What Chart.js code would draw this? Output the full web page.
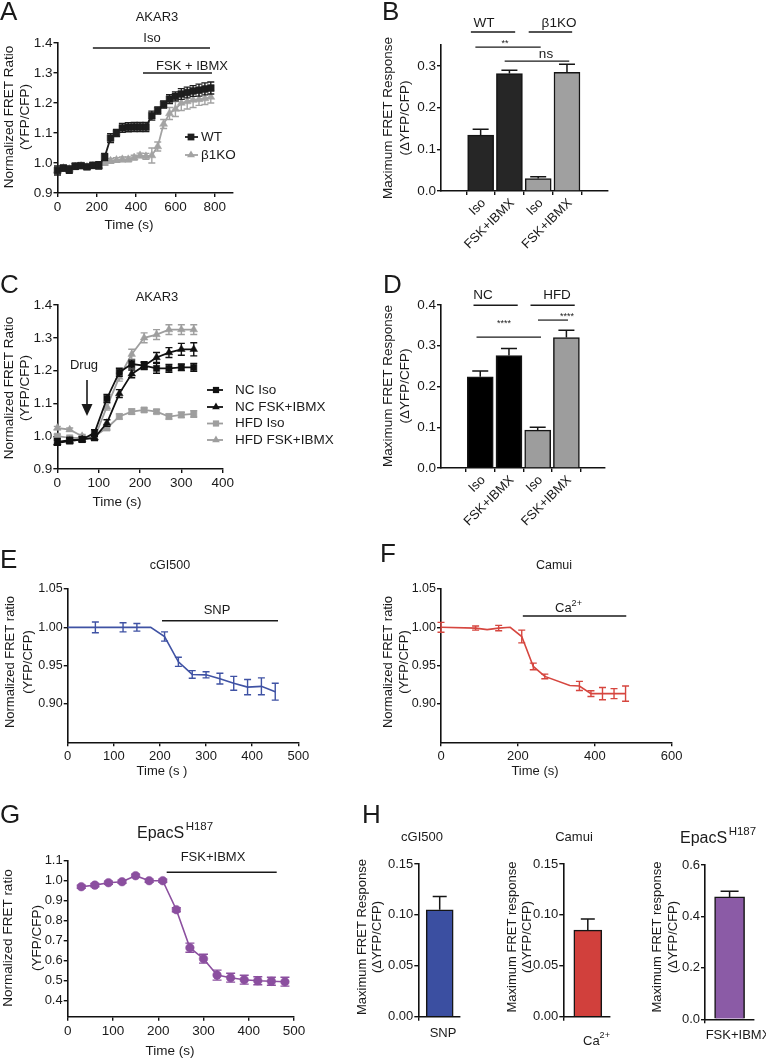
<!DOCTYPE html>
<html><head><meta charset="utf-8">
<script src="https://cdn.jsdelivr.net/npm/chart.js@4/dist/chart.umd.min.js"></script>
<style>
html,body{margin:0;padding:0;background:#fff;}
#wrap{position:relative;width:766px;height:1058px;overflow:hidden;background:#fff;}
#wrap canvas{position:absolute;left:0;top:0;}
</style></head><body><div id="wrap"></div>
<script>
// ---------------- DATA ----------------
// Panel A (AKAR3, WT vs b1KO)
const timeA = [0,30,60,90,120,150,180,210,240,270,300,330,360,390,420,450,480,510,540,570,600,630,660,690,720,750,780];
const wtA    = [0.975,0.983,0.978,0.989,0.991,0.987,0.992,0.992,1.020,1.083,1.100,1.117,1.119,1.120,1.120,1.120,1.158,1.175,1.195,1.213,1.222,1.230,1.235,1.240,1.243,1.247,1.250];
const wtAErr = [0.015,0.010,0.012,0.010,0.008,0.008,0.010,0.012,0.012,0.015,0.012,0.015,0.015,0.015,0.015,0.015,0.015,0.012,0.012,0.015,0.015,0.018,0.018,0.018,0.020,0.020,0.020];
const koA    = [0.975,0.983,0.980,0.988,0.990,0.987,0.990,0.990,1.000,1.007,1.010,1.012,1.012,1.018,1.025,1.022,1.025,1.055,1.130,1.165,1.180,1.200,1.205,1.210,1.212,1.215,1.220];
const koAErr = [0.010,0.008,0.008,0.008,0.008,0.008,0.008,0.008,0.008,0.008,0.008,0.008,0.008,0.008,0.008,0.010,0.025,0.015,0.015,0.020,0.025,0.025,0.025,0.025,0.020,0.020,0.020];
const xTicksA = [0,200,400,600,800];
const yTicksA = [0.9,1.0,1.1,1.2,1.3,1.4];

// Panel B
const catsB  = ['Iso','FSK+IBMX','Iso','FSK+IBMX'];
const valsB  = [0.134,0.282,0.030,0.285];
const errsB  = [0.014,0.008,0.004,0.019];
const yTicksB = [0,0.1,0.2,0.3];

// Panel C (AKAR3, NC vs HFD)
const timeC     = [0,30,60,90,120,150,180,210,240,270,300,330];
const ncIsoC    = [0.983,0.988,0.990,1.010,1.115,1.195,1.220,1.215,1.207,1.207,1.210,1.210];
const ncIsoCErr = [0.010,0.008,0.008,0.010,0.012,0.012,0.012,0.012,0.015,0.012,0.010,0.012];
const ncFskC    = [0.980,0.985,0.990,0.995,1.040,1.130,1.190,1.215,1.240,1.255,1.265,1.265];
const ncFskCErr = [0.008,0.008,0.008,0.008,0.010,0.012,0.012,0.010,0.015,0.015,0.018,0.020];
const hfdIsoC   = [1.000,0.995,0.995,1.000,1.025,1.060,1.075,1.080,1.075,1.060,1.065,1.068];
const hfdIsoCErr= [0.005,0.005,0.005,0.005,0.006,0.008,0.008,0.006,0.006,0.008,0.008,0.010];
const hfdFskC   = [1.025,1.020,1.000,0.995,1.090,1.180,1.250,1.300,1.310,1.325,1.325,1.325];
const hfdFskCErr= [0.005,0.005,0.005,0.005,0.010,0.012,0.015,0.015,0.015,0.015,0.015,0.015];
const xTicksC = [0,100,200,300,400];
const yTicksC = [0.9,1.0,1.1,1.2,1.3,1.4];

// Panel D
const catsD  = ['Iso','FSK+IBMX','Iso','FSK+IBMX'];
const valsD  = [0.224,0.276,0.093,0.320];
const errsD  = [0.014,0.017,0.007,0.018];
const yTicksD = [0,0.1,0.2,0.3,0.4];

// Panel E (cGI500)
const timeE = [0,60,120,150,180,210,240,270,300,330,360,390,420,450];
const valsE = [1.000,1.000,1.000,1.000,1.000,0.988,0.955,0.9385,0.938,0.933,0.927,0.922,0.923,0.916];
const errsE = [0,0.007,0.006,0.005,0,0.006,0.006,0.005,0.004,0.007,0.009,0.010,0.011,0.011];
const xTicksE = [0,100,200,300,400,500];
const yTicksE = [0.90,0.95,1.00,1.05];

// Panel F (Camui)
const timeF = [0,90,120,150,180,210,240,270,335,360,390,420,450,480];
const valsF = [1.000,0.999,0.997,0.999,1.000,0.988,0.949,0.936,0.924,0.9235,0.9135,0.9135,0.9135,0.9135];
const errsF = [0.0065,0.0027,0,0.0035,0,0.0083,0.0043,0.003,0,0.006,0.0037,0.008,0.0065,0.010];
const xTicksF = [0,200,400,600];
const yTicksF = [0.90,0.95,1.00,1.05];

// Panel G (EpacS H187)
const timeG = [30,60,90,120,150,180,210,240,270,300,330,360,390,420,450,480];
const valsG = [0.970,0.978,0.990,0.995,1.025,1.000,1.000,0.855,0.665,0.610,0.528,0.515,0.505,0.500,0.497,0.495];
const errsG = [0.008,0.008,0.008,0.008,0.008,0.008,0.008,0.010,0.023,0.022,0.025,0.022,0.022,0.020,0.020,0.022];
const xTicksG = [0,100,200,300,400,500];
const yTicksG = [0.4,0.5,0.6,0.7,0.8,0.9,1.0,1.1];

// Panel H
const catH1 = ['SNP'];      const valH1 = [0.105]; const errH1 = [0.013];
const catH2 = ['Ca2+'];     const valH2 = [0.085]; const errH2 = [0.011];
const catH3 = ['FSK+IBMX']; const valH3 = [0.476]; const errH3 = [0.022];
const yTicksH12 = [0,0.05,0.10,0.15];
const yTicksH3  = [0,0.2,0.4,0.6];

// ---------------- SETUP ----------------
const F = '"Liberation Sans", Arial, Helvetica, sans-serif';
const PW = 766, PH = 1058;
const TXT = '#1a1a1a';
const wrap = document.getElementById('wrap');
Chart.defaults.font.family = F;
Chart.defaults.color = TXT;

const errPlugin = {
  id: 'errbars',
  afterDatasetDraw(chart, args) {
    const ds = chart.data.datasets[args.index];
    if (!ds.err) return;
    const ys = chart.scales.y, ctx = chart.ctx;
    ctx.save();
    ctx.strokeStyle = ds.errColor || ds.borderColor;
    ctx.lineWidth = ds.errWidth || 1.5;
    args.meta.data.forEach((el, i) => {
      const e = ds.err[i]; if (!e) return;
      const v = ds.data[i].y;
      const x = el.x;
      const yTop = ys.getPixelForValue(v + e);
      const yBot = ds.errUp ? ys.getPixelForValue(v) : ys.getPixelForValue(v - e);
      const cw = ds.capW || 3.5;
      ctx.beginPath();
      ctx.moveTo(x, yTop); ctx.lineTo(x, yBot);
      ctx.moveTo(x - cw, yTop); ctx.lineTo(x + cw, yTop);
      if (!ds.errUp) { ctx.moveTo(x - cw, yBot); ctx.lineTo(x + cw, yBot); }
      ctx.stroke();
    });
    ctx.restore();
  }
};

function marker(ctx, style, x, y, r, color) {
  ctx.fillStyle = color;
  ctx.beginPath();
  if (style === 'rect') { const s = r * Math.SQRT1_2; ctx.rect(x - s, y - s, 2 * s, 2 * s); }
  else if (style === 'triangle') {
    ctx.moveTo(x, y - r);
    ctx.lineTo(x + r * 0.866, y + r * 0.5);
    ctx.lineTo(x - r * 0.866, y + r * 0.5);
    ctx.closePath();
  } else { ctx.arc(x, y, r, 0, Math.PI * 2); }
  ctx.fill();
}

function drawRich(ctx, it) {
  const size = it.size || 13, sup = it.supSize || size * 0.7;
  let total = 0;
  const w = it.parts.map(p => { ctx.font = `${p[1] ? sup : size}px ${F}`; const m = ctx.measureText(p[0]).width; total += m; return m; });
  let x = it.x;
  if (it.align === 'center') x -= total / 2;
  ctx.textBaseline = 'alphabetic'; ctx.textAlign = 'left';
  it.parts.forEach((p, i) => {
    ctx.font = `${p[1] ? sup : size}px ${F}`;
    ctx.fillText(p[0], x, it.y - (p[1] ? (it.raise || size * 0.45) : 0));
    x += w[i] + (p[2] || 0);
  });
}

function decoPlugin(items) {
  return {
    id: 'deco',
    afterDraw(chart) {
      const ctx = chart.ctx, xs = chart.scales.x, ys = chart.scales.y;
      const X = v => xs.getPixelForValue(v), Y = v => ys.getPixelForValue(v);
      ctx.save();
      for (const it of items) {
        const col = it.color || TXT;
        ctx.fillStyle = col; ctx.strokeStyle = col;
        if (it.t === 'seg') {
          ctx.lineWidth = it.w || 1.5;
          ctx.beginPath(); ctx.moveTo(X(it.x1), Y(it.y)); ctx.lineTo(X(it.x2), Y(it.y)); ctx.stroke();
        } else if (it.t === 'text') {
          ctx.save(); ctx.translate(it.x, it.y);
          if (it.rot) ctx.rotate(it.rot * Math.PI / 180);
          ctx.font = `${it.size || 13}px ${F}`;
          ctx.textAlign = it.align || 'center';
          ctx.textBaseline = it.base || 'middle';
          ctx.fillText(it.s, 0, 0);
          ctx.restore();
        } else if (it.t === 'rlabels') {
          // rotated category labels anchored at the bar positions of the x scale
          it.labels.forEach((s, i) => {
            ctx.save();
            ctx.translate(X(it.xs[i]) + it.dx, chart.chartArea.bottom + it.dy);
            ctx.rotate(-45 * Math.PI / 180);
            ctx.font = `${it.size || 13}px ${F}`;
            ctx.textAlign = 'right'; ctx.textBaseline = 'middle';
            ctx.fillText(s, 0, 0);
            ctx.restore();
          });
        } else if (it.t === 'rich') {
          drawRich(ctx, it);
        } else if (it.t === 'arrow') {
          ctx.lineWidth = 1.6;
          ctx.beginPath(); ctx.moveTo(it.x, it.y1); ctx.lineTo(it.x, it.y2 - 10); ctx.stroke();
          ctx.beginPath(); ctx.moveTo(it.x - 5.5, it.y2 - 12); ctx.lineTo(it.x + 5.5, it.y2 - 12); ctx.lineTo(it.x, it.y2); ctx.closePath(); ctx.fill();
        } else if (it.t === 'legend') {
          const ds = chart.data.datasets[it.ds];
          ctx.strokeStyle = ds.borderColor; ctx.lineWidth = ds.borderWidth;
          ctx.beginPath(); ctx.moveTo(it.x1, it.y); ctx.lineTo(it.x2, it.y); ctx.stroke();
          marker(ctx, ds.pointStyle, it.mx, it.y, ds.pointRadius, ds.borderColor);
          ctx.fillStyle = TXT;
          ctx.font = `${it.size || 13}px ${F}`; ctx.textAlign = 'left'; ctx.textBaseline = 'middle';
          ctx.fillText(it.s, it.tx, it.y);
        }
      }
      ctx.restore();
    }
  };
}

function axis(o, horizontal) {
  return {
    type: 'linear', min: o.min, max: o.max,
    border: { display: true, color: '#111', width: 1.6 },
    grid: { display: true, drawOnChartArea: false, drawTicks: true, tickLength: 4, color: '#111', lineWidth: 1.4 },
    ticks: {
      autoSkip: false, display: o.show !== false,
      font: { family: F, size: o.size || 13 }, color: TXT,
      padding: o.pad == null ? 2 : o.pad,
      maxRotation: 0, minRotation: 0,
      callback: o.cb || (v => String(v))
    },
    afterBuildTicks: s => { s.ticks = o.ticks.map(v => ({ value: v })); },
    afterFit: horizontal ? (s => { s.height = o.box; }) : (s => { s.width = o.box; })
  };
}

function make(area, type, datasets, xo, yo, items) {
  const c = document.createElement('canvas');
  c.width = PW; c.height = PH; wrap.appendChild(c);
  xo.box = xo.box || 30; yo.box = yo.box || 40;
  return new Chart(c, {
    type: type,
    data: { datasets: datasets },
    options: {
      responsive: false, animation: false, devicePixelRatio: 1, events: [],
      layout: { padding: { left: area.l - yo.box, right: PW - area.r, top: area.t, bottom: PH - area.b - xo.box } },
      plugins: { legend: { display: false }, tooltip: { enabled: false }, title: { display: false } },
      scales: { x: axis(xo, true), y: axis(yo, false) }
    },
    plugins: [errPlugin, decoPlugin(items)]
  });
}

function lineDs(times, vals, errs, color, style, r, extra) {
  return Object.assign({
    type: 'line', data: times.map((t, i) => ({ x: t, y: vals[i] })), err: errs,
    borderColor: color, backgroundColor: color, borderWidth: 1.8, tension: 0,
    pointStyle: style, pointRadius: r, pointHoverRadius: r, pointBackgroundColor: color,
    pointBorderColor: color, pointBorderWidth: 0.5, clip: false, capW: 3.5, errColor: color, errWidth: 1.4
  }, extra || {});
}

function barDs(xs, vals, errs, colors, thick, capW) {
  return {
    type: 'bar', data: xs.map((x, i) => ({ x: x, y: vals[i] })), err: errs, errUp: true,
    backgroundColor: colors, borderColor: '#151515', borderWidth: 1.5, barThickness: thick,
    capW: capW, errColor: '#151515', errWidth: 1.5, clip: false
  };
}

const f1 = v => Number(v).toFixed(1), f2 = v => Number(v).toFixed(2), f0 = v => String(v);
const letter = (s, x, y) => ({ t: 'text', s: s, x: x, y: y, size: 26, align: 'left', base: 'alphabetic' });
const ytitle = (s, x, y, size) => ({ t: 'text', s: s, x: x, y: y, rot: -90, size: size || 13 });

// ---------------- PANEL A ----------------
const BLK = '#1e1e1e', GRY = '#a3a3a3';
make({ l: 57.5, r: 232.4, t: 43, b: 193 }, 'line', [
  lineDs(timeA, wtA, wtAErr, BLK, 'rect', 4.8),
  lineDs(timeA, koA, koAErr, GRY, 'triangle', 4.6)
], { min: 0, max: 890, ticks: xTicksA, cb: f0, size: 13.5 },
   { min: 0.9, max: 1.4, ticks: yTicksA, cb: f1, size: 13.5, pad: 1 }, [
  letter('A', 0, 20),
  { t: 'text', s: 'AKAR3', x: 157, y: 17, size: 13 },
  { t: 'text', s: 'Iso', x: 152, y: 38, size: 13 },
  { t: 'seg', x1: 180, x2: 776, y: 1.383 },
  { t: 'text', s: 'FSK + IBMX', x: 192, y: 66, size: 13 },
  { t: 'seg', x1: 435, x2: 786, y: 1.3 },
  { t: 'legend', ds: 0, x1: 185, x2: 198, mx: 191, tx: 201, y: 137, s: 'WT', size: 13.5 },
  { t: 'legend', ds: 1, x1: 185, x2: 198, mx: 191, tx: 201, y: 155, s: 'β1KO', size: 13.5 },
  ytitle('Normalized FRET Ratio', 9, 117, 13.5),
  ytitle('(YFP/CFP)', 25, 117, 13.5),
  { t: 'text', s: 'Time (s)', x: 129, y: 225, size: 13.5 }
]);

// ---------------- PANEL B ----------------
make({ l: 441, r: 608, t: 45.2, b: 191 }, 'bar', [
  barDs([1, 2, 3, 4], valsB, errsB, ['#262626', '#262626', '#a0a0a0', '#a0a0a0'], 26, 8)
], { min: 0.348, max: 4.70, ticks: [1, 2, 3, 4], cb: v => catsB[Math.round(v) - 1], show: false, box: 60 },
   { min: 0, max: 0.35, ticks: yTicksB, cb: f1, size: 13.5, pad: 1 }, [
  letter('B', 382, 20),
  { t: 'rlabels', labels: catsB, xs: [1, 2, 3, 4], dx: 3, dy: 10, size: 13 },
  { t: 'text', s: 'WT', x: 484, y: 23, size: 13.5 },
  { t: 'seg', x1: 0.661, x2: 2.2, y: 0.3816 },
  { t: 'text', s: 'β1KO', x: 559, y: 23, size: 13.5 },
  { t: 'seg', x1: 2.67, x2: 4.18, y: 0.3816 },
  { t: 'text', s: '**', x: 505, y: 44, size: 9 },
  { t: 'seg', x1: 0.817, x2: 3.087, y: 0.3456, w: 1.2 },
  { t: 'text', s: 'ns', x: 546, y: 54, size: 13.5 },
  { t: 'seg', x1: 1.835, x2: 4.078, y: 0.312, w: 1.2 },
  ytitle('Maximum FRET Response', 388, 118, 13.5),
  ytitle('(ΔYFP/CFP)', 405, 118, 13.5)
]);

// ---------------- PANEL C ----------------
const BLK2 = '#111111', GRY2 = '#9e9e9e';
make({ l: 57.3, r: 222.7, t: 305, b: 469 }, 'line', [
  lineDs(timeC, ncIsoC, ncIsoCErr, BLK2, 'rect', 4.4),
  lineDs(timeC, ncFskC, ncFskCErr, BLK2, 'triangle', 4.4),
  lineDs(timeC, hfdIsoC, hfdIsoCErr, GRY2, 'rect', 4.4),
  lineDs(timeC, hfdFskC, hfdFskCErr, GRY2, 'triangle', 4.4)
], { min: 0, max: 400, ticks: xTicksC, cb: f0, size: 13.5 },
   { min: 0.9, max: 1.4, ticks: yTicksC, cb: f1, size: 13.5, pad: 1 }, [
  letter('C', 0, 293),
  { t: 'text', s: 'AKAR3', x: 157, y: 297, size: 13 },
  { t: 'text', s: 'Drug', x: 84, y: 365, size: 13 },
  { t: 'arrow', x: 87, y1: 380, y2: 416 },
  { t: 'legend', ds: 0, x1: 207, x2: 223, mx: 216, tx: 235, y: 390, s: 'NC Iso', size: 13.5 },
  { t: 'legend', ds: 1, x1: 207, x2: 223, mx: 216, tx: 235, y: 407, s: 'NC FSK+IBMX', size: 13.5 },
  { t: 'legend', ds: 2, x1: 207, x2: 223, mx: 216, tx: 235, y: 423.5, s: 'HFD Iso', size: 13.5 },
  { t: 'legend', ds: 3, x1: 207, x2: 223, mx: 216, tx: 235, y: 440, s: 'HFD FSK+IBMX', size: 13.5 },
  ytitle('Normalized FRET Ratio', 9, 388, 13.5),
  ytitle('(YFP/CFP)', 25, 388, 13.5),
  { t: 'text', s: 'Time (s)', x: 117, y: 502, size: 13.5 }
]);

// ---------------- PANEL D ----------------
make({ l: 441, r: 605, t: 305, b: 468 }, 'bar', [
  barDs([1, 2, 3, 4], valsD, errsD, ['#000000', '#000000', '#9d9d9d', '#9d9d9d'], 26, 8)
], { min: 0.347, max: 4.63, ticks: [1, 2, 3, 4], cb: v => catsD[Math.round(v) - 1], show: false, box: 60 },
   { min: 0, max: 0.4, ticks: yTicksD, cb: f1, size: 13.5, pad: 1 }, [
  letter('D', 383, 293),
  { t: 'rlabels', labels: catsD, xs: [1, 2, 3, 4], dx: 3, dy: 10, size: 13 },
  { t: 'text', s: 'NC', x: 483, y: 295, size: 13.5 },
  { t: 'seg', x1: 0.765, x2: 2.305, y: 0.3995 },
  { t: 'text', s: 'HFD', x: 557, y: 295, size: 13.5 },
  { t: 'seg', x1: 2.75, x2: 4.29, y: 0.3995 },
  { t: 'text', s: '****', x: 504, y: 324, size: 9 },
  { t: 'seg', x1: 0.87, x2: 3.115, y: 0.321, w: 1.2 },
  { t: 'text', s: '****', x: 567, y: 317, size: 9 },
  { t: 'seg', x1: 3.01, x2: 4.055, y: 0.363, w: 1.2 },
  ytitle('Maximum FRET Response', 388, 386, 13.5),
  ytitle('(ΔYFP/CFP)', 405, 386, 13.5)
]);

// ---------------- PANEL E ----------------
const BLUE = '#3f52a4';
make({ l: 67.7, r: 298.3, t: 589, b: 742.3 }, 'line', [
  lineDs(timeE, valsE, errsE, BLUE, 'circle', 0, { borderWidth: 1.6, capW: 3.5 })
], { min: 0, max: 500, ticks: xTicksE, cb: f0, size: 13 },
   { min: 0.85, max: 1.05, ticks: yTicksE, cb: f2, size: 12.5, pad: 1 }, [
  letter('E', 0, 568),
  { t: 'text', s: 'cGI500', x: 170, y: 566, size: 12.5 },
  { t: 'text', s: 'SNP', x: 217, y: 610, size: 13 },
  { t: 'seg', x1: 204.5, x2: 456, y: 1.0086 },
  ytitle('Normalized FRET ratio', 10, 662, 13),
  ytitle('(YFP/CFP)', 28, 662, 13),
  { t: 'text', s: 'Time (s )', x: 162, y: 771, size: 13 }
]);

// ---------------- PANEL F ----------------
const RED = '#d6463f';
make({ l: 441, r: 671.7, t: 589, b: 742.3 }, 'line', [
  lineDs(timeF, valsF, errsF, RED, 'circle', 0, { borderWidth: 1.6, capW: 3.5 })
], { min: 0, max: 600, ticks: xTicksF, cb: f0, size: 13 },
   { min: 0.85, max: 1.05, ticks: yTicksF, cb: f2, size: 12.5, pad: 1 }, [
  letter('F', 380, 562),
  { t: 'text', s: 'Camui', x: 554, y: 566, size: 12.5 },
  { t: 'rich', x: 555, y: 611.5, size: 13, parts: [['Ca', 0], ['2+', 1]], raise: 6 },
  { t: 'seg', x1: 212.8, x2: 481.8, y: 1.0148 },
  ytitle('Normalized FRET ratio', 388, 662, 13),
  ytitle('(YFP/CFP)', 404, 662, 13),
  { t: 'text', s: 'Time (s)', x: 535, y: 771, size: 13 }
]);

// ---------------- PANEL G ----------------
const PURP = '#8b4f9f';
make({ l: 67.7, r: 294, t: 860.7, b: 1016.7 }, 'line', [
  lineDs(timeG, valsG, errsG, PURP, 'circle', 4.3, { borderWidth: 1.6, capW: 4.5 })
], { min: 0, max: 500, ticks: xTicksG, cb: f0, size: 13.5 },
   { min: 0.32, max: 1.1, ticks: yTicksG, cb: f1, size: 13, pad: 1 }, [
  letter('G', 0, 823),
  { t: 'rich', x: 137, y: 837.5, size: 16, supSize: 11.5, raise: 8, parts: [['EpacS', 0, 1.5], ['H187', 1]] },
  { t: 'text', s: 'FSK+IBMX', x: 213, y: 857, size: 13 },
  { t: 'seg', x1: 218.7, x2: 461.8, y: 1.042 },
  ytitle('Normalized FRET ratio', 8, 938, 13.5),
  ytitle('(YFP/CFP)', 37, 938, 13.5),
  { t: 'text', s: 'Time (s)', x: 170, y: 1051, size: 13.5 }
]);

// ---------------- PANEL H ----------------
make({ l: 418.3, r: 460, t: 864, b: 1016.7 }, 'bar', [
  barDs([1], valH1, errH1, ['#3b4fa1'], 27, 7)
], { min: 0, max: 1.9, ticks: [1], cb: f0, show: false },
   { min: 0, max: 0.15, ticks: yTicksH12, cb: f2, size: 13, pad: 1 }, [
  letter('H', 362, 823),
  { t: 'text', s: 'cGI500', x: 422, y: 837, size: 13 },
  { t: 'text', s: catH1[0], x: 443, y: 1033, size: 13 },
  ytitle('Maximum FRET Response', 362, 937, 13),
  ytitle('(ΔYFP/CFP)', 377, 937, 13)
]);

make({ l: 563.3, r: 610, t: 864, b: 1016.7 }, 'bar', [
  barDs([1], valH2, errH2, ['#d1403c'], 28, 7)
], { min: 0, max: 1.82, ticks: [1], cb: f0, show: false },
   { min: 0, max: 0.15, ticks: yTicksH12, cb: f2, size: 13, pad: 1 }, [
  { t: 'text', s: 'Camui', x: 574, y: 837, size: 13 },
  { t: 'rich', x: 583, y: 1045, size: 13, parts: [['Ca', 0], ['2+', 1]], raise: 7 },
  ytitle('Maximum FRET response', 512, 937, 13),
  ytitle('(ΔYFP/CFP)', 527, 937, 13)
]);

make({ l: 705, r: 753.3, t: 865, b: 1019.3 }, 'bar', [
  barDs([1], valH3, errH3, ['#8b5ba6'], 30, 9)
], { min: 0, max: 1.93, ticks: [1], cb: f0, show: false },
   { min: 0, max: 0.6, ticks: yTicksH3, cb: f1, size: 13, pad: 1 }, [
  { t: 'rich', x: 680, y: 842.5, size: 16, supSize: 11.5, raise: 8, parts: [['EpacS', 0, 1.5], ['H187', 1]] },
  { t: 'text', s: catH3[0], x: 738, y: 1035, size: 13 },
  ytitle('Maximum FRET response', 657, 937, 13),
  ytitle('(ΔYFP/CFP)', 673, 937, 13)
]);
</script>
</body></html>
